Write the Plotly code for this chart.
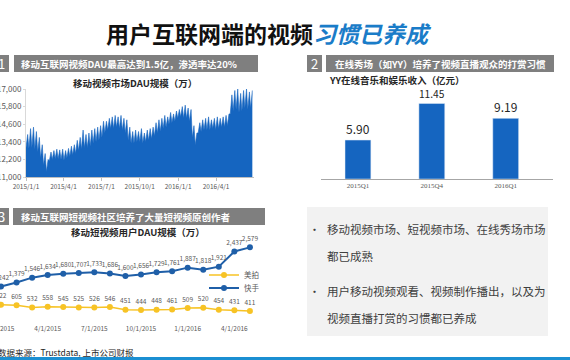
import plotly.graph_objects as go
import pandas as pd

W, H = 570, 360
def px(x): return x / W
def py(y): return 1 - y / H

FONT = "Noto Sans CJK SC, Noto Sans, sans-serif"
BLUE = "#1565c0"
GRAY_TXT = "#595959"

# ---------------- Chart 1: mobile video DAU (weekly low / peak, 万) ----------------
dau_start = "2015-01-01"
dau_low = [13000, 12950, 13000, 12900, 12700, 12300, 11800, 11350, 12100, 12200,
           12250, 12250, 12200, 12150, 12300, 12400, 12500, 12600, 12800, 12900,
           13000, 13000, 13100, 13300, 13400, 13500, 13700, 14000, 14200, 14300,
           14300, 14400, 14300, 14200, 14000, 13500, 13300, 13300, 13400, 13400,
           13300, 13400, 13500, 13600, 13800, 14000, 14100, 14300, 14400, 14600,
           14700, 14800, 15000, 15100, 15000, 15000, 14800, 13700, 13200, 14000,
           14100, 14200, 14200, 14200, 14300, 14200, 14300, 14400, 14400, 14500,
           15300, 15500, 15600, 15400, 15500, 15700, 15600, 15700]
dau_high = [13900, 14300, 14400, 14100, 13700, 13200, 12600, 12200, 12700, 12800,
            12900, 12850, 12900, 12800, 12950, 13100, 13200, 13500, 13700, 14200,
            13900, 14000, 14200, 14300, 14400, 14500, 14800, 14800, 15000, 15100,
            15200, 15100, 15200, 15000, 14900, 14400, 14100, 14200, 14100, 14300,
            14000, 14200, 14300, 14400, 14700, 14900, 15000, 15200, 15100, 15400,
            15300, 15500, 15600, 15800, 15900, 15700, 15600, 14500, 14000, 14700,
            14900, 15000, 15100, 14900, 15000, 15100, 15000, 15100, 15200, 15300,
            16600, 16900, 17000, 16700, 16900, 17000, 16800, 16900]
dau_ticks = ["2015-01-01", "2015-04-01", "2015-07-01", "2015-10-01", "2016-01-01", "2016-04-01"]
dau_ticktext = ["2015/1/1", "2015/4/1", "2015/7/1", "2015/10/1", "2016/1/1", "2016/4/1"]
dau_yticks = [11000, 12200, 13400, 14600, 15800, 17000]

# ---------------- Chart 2: YY revenue (亿元) ----------------
yy_quarters = ["2015Q1", "2015Q4", "2016Q1"]
yy_revenue = [5.90, 11.45, 9.19]

# ---------------- Chart 3: short video DAU (万) ----------------
sv_months = ["1/1/2015", "2/1/2015", "3/1/2015", "4/1/2015", "5/1/2015", "6/1/2015",
             "7/1/2015", "8/1/2015", "9/1/2015", "10/1/2015", "11/1/2015", "12/1/2015",
             "1/1/2016", "2/1/2016", "3/1/2016", "4/1/2016", "5/1/2016"]
kuaishou = [1242, 1379, 1546, 1634, 1680, 1707, 1733, 1686, 1600, 1656, 1729, 1761,
            1887, 1818, 1921, 2437, 2579]
meipai = [622, 605, 532, 558, 545, 525, 526, 546, 451, 444, 448, 461, 509, 520, 454, 431, 411]
sv_ticks = ["1/1/2015", "4/1/2015", "7/1/2015", "10/1/2015", "1/1/2016", "4/1/2016"]

fig = go.Figure()

# chart 1 series (zigzag of weekly base and weekend peak)
weeks = pd.date_range(dau_start, periods=len(dau_low), freq="7D")
x1, y1 = [], []
for d, lo, hi in zip(weeks, dau_low, dau_high):
    x1 += [d, d + pd.Timedelta(days=4)]
    y1 += [lo, hi]
fig.add_trace(go.Scatter(x=x1, y=y1, mode="lines", fill="tozeroy",
                         line=dict(color=BLUE, width=0.6), fillcolor=BLUE,
                         showlegend=False, hoverinfo="skip", xaxis="x", yaxis="y"))

# chart 2 bars
fig.add_trace(go.Bar(x=yy_quarters, y=yy_revenue, width=0.35, marker_color=BLUE,
                     text=[f"{v:.2f}" for v in yy_revenue], textposition="outside",
                     textfont=dict(size=12, color="#262626", family=FONT),
                     cliponaxis=False, showlegend=False, xaxis="x2", yaxis="y2"))

# chart 3 lines
fig.add_trace(go.Scatter(x=sv_months, y=meipai, name="美拍", mode="lines+markers+text",
                         line=dict(color="#f7c325", width=1.5),
                         marker=dict(size=6, color="#f7c325"),
                         text=[f"{v:,}" for v in meipai], textposition="top center",
                         textfont=dict(size=6.5, color=GRAY_TXT), cliponaxis=False,
                         xaxis="x3", yaxis="y3", legend="legend"))
fig.add_trace(go.Scatter(x=sv_months, y=kuaishou, name="快手", mode="lines+markers+text",
                         line=dict(color="#1f5fa8", width=2),
                         marker=dict(size=6, color="#1f5fa8"),
                         text=[f"{v:,}" for v in kuaishou], textposition="top center",
                         textfont=dict(size=6.5, color=GRAY_TXT), cliponaxis=False,
                         xaxis="x3", yaxis="y3", legend="legend2"))

shapes = []
annotations = []

def note(x, y, text, size, color="#262626", xanchor="center"):
    annotations.append(dict(x=px(x), y=py(y), xref="paper", yref="paper", showarrow=False,
                            xanchor=xanchor, yanchor="middle", text=text,
                            font=dict(size=size, color=color, family=FONT)))

# title
note(269, 33, "<b>用户互联网端的视频</b><b><i><span style='color:#1a7cc8'>习惯已养成</span></i></b>",
     23, "#111111")

def header(num, nx0, nx1, bx0, bx1, y0, y1, text, tx):
    for a, b in ((nx0, nx1), (bx0, bx1)):
        shapes.append(dict(type="rect", xref="paper", yref="paper", x0=px(a), x1=px(b),
                           y0=py(y1), y1=py(y0), fillcolor="#7f7f7f", line_width=0,
                           layer="above"))
    note(nx1 - 2, (y0 + y1) / 2, num, 13, "white", "right")
    note(tx, (y0 + y1) / 2, f"<b>{text}</b>", 9.5, "white", "left")

header("1", -10, 9, 14, 258, 55, 72, "移动互联网视频DAU最高达到1.5亿，渗透率达20%", 19)
header("2", 307, 322, 326, 554, 55, 72, "在线秀场（如YY）培养了视频直播观众的打赏习惯", 333)
header("3", -10, 9, 13, 265, 208, 225, "移动互联网短视频社区培养了大量短视频原创作者", 19)

# chart titles
note(135, 83, "<b>移动视频市场DAU规模（万）</b>", 9.5)
note(327, 80, "<b>YY在线音乐和娱乐收入（亿元）</b>", 9.5, xanchor="left")
note(138, 232, "<b>移动短视频用户DAU规模（万）</b>", 9.5)

# text box
shapes.append(dict(type="rect", xref="paper", yref="paper", x0=px(307), x1=px(548),
                   y0=py(336), y1=py(207), fillcolor="#f2f2f2", line_width=0, layer="below"))
lines = [("•", "移动视频市场、短视频市场、在线秀场市场", 229),
         ("", "都已成熟", 256),
         ("•", "用户移动视频观看、视频制作播出，以及为", 291),
         ("", "视频直播打赏的习惯都已养成", 318)]
for b, t, yy in lines:
    if b:
        note(314, yy, b, 11, "#404040")
    note(325, yy, t, 11.5, "#404040", "left")

# source
note(-4, 352, "数据来源：Trustdata, 上市公司财报", 8.5, "#262626", "left")
# bottom band
shapes.append(dict(type="rect", xref="paper", yref="paper", x0=0, x1=1,
                   y0=0, y1=py(357), fillcolor="#1b8fd2", line_width=0))

leg_common = dict(xanchor="left", yanchor="middle", font=dict(size=7.5, color=GRAY_TXT),
                  bgcolor="rgba(0,0,0,0)", itemwidth=30, tracegroupgap=0,
                  borderwidth=0)

fig.update_layout(
    width=W, height=H, margin=dict(l=0, r=0, t=0, b=0, pad=0, autoexpand=False),
    paper_bgcolor="white", plot_bgcolor="rgba(0,0,0,0)",
    font=dict(family=FONT, color=GRAY_TXT),
    shapes=shapes, annotations=annotations,
    showlegend=True,
    legend=dict(x=px(204), y=py(275), **leg_common),
    legend2=dict(x=px(204), y=py(288), **leg_common),
    xaxis=dict(domain=[px(26), px(254)], range=["2015-01-01", "2016-07-01"], type="date",
               tickvals=dau_ticks, ticktext=dau_ticktext, tickfont=dict(size=6.5, color=GRAY_TXT),
               showline=True, linecolor="#bfbfbf", linewidth=1, ticks="outside", ticklen=3,
               tickcolor="#bfbfbf", showgrid=False, zeroline=False, anchor="y", automargin=False),
    yaxis=dict(domain=[py(177), py(89)], range=[11000, 17000], tickvals=dau_yticks,
               tickformat=",", tickfont=dict(size=8, color=GRAY_TXT), showgrid=False,
               showline=True, linecolor="#d9d9d9", zeroline=False, anchor="x", ticklen=2,
               ticks="outside", tickcolor="#d9d9d9", automargin=False),
    xaxis2=dict(domain=[px(321), px(553)], range=[-0.5, 2.64], type="category",
                tickfont=dict(size=7, color=GRAY_TXT, family="Liberation Serif"),
                showline=True, linecolor="#a6a6a6", linewidth=1, showgrid=False,
                zeroline=False, anchor="y2", automargin=False),
    yaxis2=dict(domain=[py(179), py(86.6)], range=[0, 14], visible=False, anchor="x2",
                automargin=False),
    xaxis3=dict(domain=[0, px(265)], range=[-0.064, 16.97], type="category",
                tickvals=sv_ticks, ticktext=sv_ticks, tickfont=dict(size=6.5, color=GRAY_TXT),
                showline=False, showgrid=False, zeroline=False, anchor="y3", automargin=False),
    yaxis3=dict(domain=[py(323), py(235)], range=[0, 3000], visible=False, anchor="x3",
                automargin=False),
)

fig.write_html("out.html", config={"displayModeBar": False},
               post_script="document.body.style.margin='0px';")
